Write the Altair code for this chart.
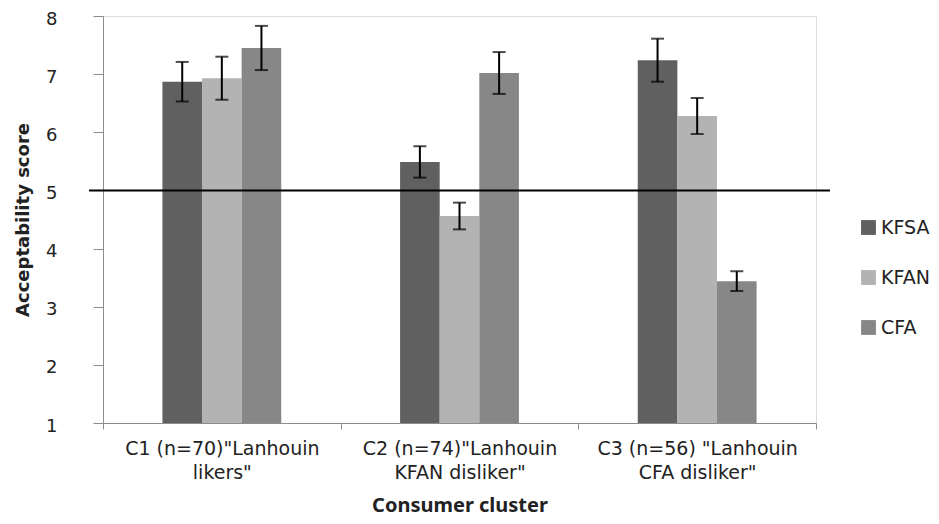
import altair as alt
import pandas as pd

clusters = [
    'C1 (n=70)"Lanhouin\nlikers"',
    'C2 (n=74)"Lanhouin\nKFAN disliker"',
    'C3 (n=56) "Lanhouin\nCFA disliker"',
]
products = ["KFSA", "KFAN", "CFA"]
kfsa_mean = [6.87, 5.49, 7.24]
kfan_mean = [6.93, 4.56, 6.28]
cfa_mean = [7.45, 7.02, 3.44]
kfsa_err = [0.34, 0.27, 0.37]
kfan_err = [0.37, 0.23, 0.31]
cfa_err = [0.38, 0.36, 0.17]
ref_value = [5]
colors = ["#606060", "#b3b3b3", "#878787"]

rows = []
for p, means, errs in zip(products, [kfsa_mean, kfan_mean, cfa_mean], [kfsa_err, kfan_err, cfa_err]):
    for c, m, e in zip(clusters, means, errs):
        rows.append({"cluster": c, "product": p, "mean": m, "lo": m - e, "hi": m + e})
df = pd.DataFrame(rows)

W, H = 713, 407
STEP = W / len(clusters)
FONT = "DejaVu Sans"

xenc = alt.X(
    "cluster:N",
    sort=clusters,
    scale=alt.Scale(paddingInner=0, paddingOuter=0),
    axis=alt.Axis(
        title="Consumer cluster",
        labelAngle=0,
        labelExpr="split(datum.label, '\\n')",
        labelLineHeight=24,
        labelFontSize=19,
        labelFont=FONT,
        labelColor="#222",
        labelPadding=10,
        labelLimit=0,
        tickBand="extent",
        tickSize=6,
        grid=False,
        tickColor="#8c8c8c",
        domainColor="#8c8c8c",
        titleFont="Noto Sans",
        titleFontWeight="bold",
        titleFontSize=20,
        titleColor="#222",
        titlePadding=13,
    ),
)
xoff = alt.XOffset(
    "product:N",
    sort=products,
    scale=alt.Scale(range=[STEP * 0.25, STEP * 0.75], paddingInner=0, paddingOuter=0),
)
yscale = alt.Scale(domain=[1, 8], nice=False, zero=False)

base = alt.Chart(df)

bars = base.mark_bar().encode(
    x=xenc,
    xOffset=xoff,
    y=alt.Y(
        "mean:Q",
        scale=yscale,
        axis=alt.Axis(
            title="Acceptability score",
            values=[1, 2, 3, 4, 5, 6, 7, 8],
            format="d",
            grid=False,
            tickSize=10,
            labelPadding=36,
            labelOffset=3,
            labelFontSize=18,
            labelFont=FONT,
            labelColor="#222",
            tickColor="#8c8c8c",
            domainColor="#8c8c8c",
            titleFont=FONT,
            titleFontWeight="bold",
            titleFontSize=18,
            titleColor="#222",
            titlePadding=13,
        ),
    ),
    y2=alt.datum(1),
    color=alt.Color(
        "product:N",
        sort=products,
        scale=alt.Scale(domain=products, range=colors),
        legend=alt.Legend(
            title=None,
            orient="none",
            legendX=756,
            legendY=202,
            symbolType="square",
            symbolSize=220,
            symbolStrokeWidth=0,
            labelFont=FONT,
            labelFontSize=19,
            labelColor="#222",
            rowPadding=30,
            labelOffset=3,
            padding=0,
        ),
    ),
)

rule_ref = alt.Chart(pd.DataFrame({"v": ref_value})).mark_rule(color="black", strokeWidth=2).encode(
    y=alt.Y("v:Q", scale=yscale),
    x=alt.value(-14),
    x2=alt.value(W + 14),
)

err_rule = base.mark_rule(color="black", strokeWidth=2).encode(
    x=alt.X("cluster:N", sort=clusters),
    xOffset=xoff,
    y=alt.Y("lo:Q", scale=yscale),
    y2="hi:Q",
)
cap_lo = base.mark_tick(color="black", orient="horizontal", size=13, thickness=2).encode(
    x=alt.X("cluster:N", sort=clusters),
    xOffset=xoff,
    y=alt.Y("lo:Q", scale=yscale),
)
cap_hi = base.mark_tick(color="black", orient="horizontal", size=13, thickness=2).encode(
    x=alt.X("cluster:N", sort=clusters),
    xOffset=xoff,
    y=alt.Y("hi:Q", scale=yscale),
)

chart = (
    alt.layer(bars, rule_ref, err_rule, cap_lo, cap_hi)
    .properties(
        width=W,
        height=H,
        autosize=alt.AutoSizeParams(type="none"),
        padding={"left": 95, "top": 8, "right": 115, "bottom": 93},
    )
    .configure_view(stroke=None)
    .configure(background="white")
)

chart.save("out.html", embed_options={"renderer": "svg", "actions": False})
